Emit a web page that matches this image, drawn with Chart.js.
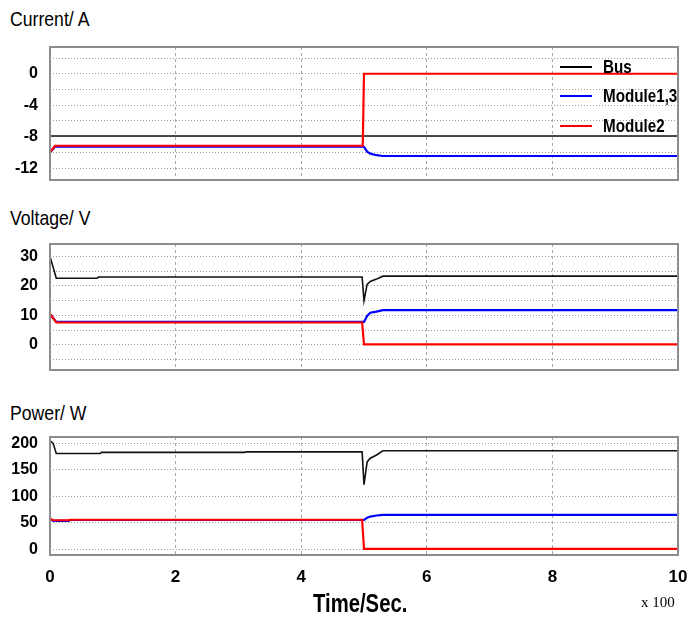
<!DOCTYPE html>
<html>
<head>
<meta charset="utf-8">
<script src="https://cdn.jsdelivr.net/npm/chart.js@4.4.0/dist/chart.umd.min.js"></script>
<style>
  body { margin: 0; background: #fff; width: 688px; height: 629px; position: relative; overflow: hidden;
         font-family: 'Liberation Sans', Arial, sans-serif; }
  .box { position: absolute; left: 0; width: 688px; }
  .title { position: absolute; left: 10px; font-size: 21px; color: #000; transform: scaleX(0.84); transform-origin: left top; white-space: nowrap; }
  .legend { position: absolute; left: 560px; font-size: 19px; font-weight: bold; }
  .legend div { height: 29.5px; display: flex; align-items: center; white-space: nowrap; }
  .legend span.ln { display: inline-block; width: 32px; height: 2px; margin-right: 11px; }
  .legend span.tx { display: inline-block; transform: scaleX(0.8); transform-origin: left center; }
</style>
</head>
<body>
<div class="title" style="top:7px">Current/ A</div>
<div class="title" style="top:206px">Voltage/ V</div>
<div class="title" style="top:401px">Power/ W</div>

<div class="box" style="top:35px;height:157px"><canvas id="currentChart"></canvas></div>
<div class="box" style="top:232px;height:150px"><canvas id="voltageChart"></canvas></div>
<div class="box" style="top:425px;height:165px"><canvas id="powerChart"></canvas></div>

<div class="legend" style="top:52px">
  <div><span class="ln" style="background:#000"></span><span class="tx">Bus</span></div>
  <div><span class="ln" style="background:#0000ff"></span><span class="tx">Module1,3</span></div>
  <div><span class="ln" style="background:#ff0000"></span><span class="tx">Module2</span></div>
</div>

<div style="position:absolute;left:313px;top:588px;font-size:26px;font-weight:bold;transform:scaleX(0.78);transform-origin:left top;white-space:nowrap">Time/Sec.</div>
<div style="position:absolute;left:641px;top:594px;font-family:'Liberation Serif',serif;font-size:15px">x 100</div>

<script>
'use strict';
let seriesNames = ['Bus', 'Module1,3', 'Module2'];
let seriesColors = ['#111111', '#0000ff', '#ff0000'];
let xTicks = [0, 2, 4, 6, 8, 10];

let currentTime = [0, 0.08, 4.98, 5.0, 5.05, 5.1, 5.2, 5.3, 10];
let currentBus = [-7.9, -7.9, -7.9, -7.9, -7.9, -7.9, -7.9, -7.9, -7.9];
let currentModule13 = [-10, -9.25, -9.25, -9.3, -9.9, -10.15, -10.35, -10.45, -10.45];
let currentModule2 = [-10, -9.15, -9.15, 0, 0, 0, 0, 0, 0];
let currentTicks = [-12, -8, -4, 0];

let voltageTime = [0, 0.1, 0.75, 0.77, 4.97, 5.0, 5.05, 5.1, 5.2, 5.3, 10];
let voltageBus = [30, 22.6, 22.6, 23, 23, 15, 20.5, 21.5, 22.3, 23.3, 23.3];
let voltageModule13 = [10.5, 7.8, 7.8, 7.8, 7.8, 7.8, 9.8, 10.9, 11.3, 11.8, 11.8];
let voltageModule2 = [10.5, 7.6, 7.6, 7.6, 7.6, 0.2, 0.2, 0.2, 0.2, 0.2, 0.2];
let voltageTicks = [0, 10, 20, 30];

let powerTime = [0, 0.05, 0.1, 0.3, 0.32, 0.8, 0.82, 3.1, 3.12, 4.97, 5.0, 5.05, 5.1, 5.2, 5.3, 10];
let powerBus = [205, 200, 181, 181, 181, 181, 183, 183, 184, 184, 122, 165, 172, 178, 186, 186];
let powerModule13 = [58, 54, 54, 54, 55.5, 55.5, 55.5, 55.5, 55.5, 55.5, 55.5, 60, 62, 64, 65, 65];
let powerModule2 = [58, 55, 55, 55, 56, 56, 56, 56, 56, 56, 1, 1, 1, 1, 1, 1];
let powerTicks = [0, 50, 100, 150, 200];

let fontFamily = "'Liberation Sans', Arial, sans-serif";

function toPoints(time, values){
    let pts = [];
    for (let i = 0; i < time.length; i++){
        pts.push({x: time[i], y: values[i]});
    }
    return pts;
}

let framePlugin = {
    id: 'frame',
    afterDraw(chart){
        let a = chart.chartArea;
        let ctx = chart.ctx;
        ctx.save();
        ctx.strokeStyle = '#8c8c8c';
        ctx.lineWidth = 2;
        ctx.strokeRect(a.left, a.top, a.right - a.left, a.bottom - a.top);
        ctx.restore();
    }
};

function makeChart(id, time, series, yMin, yMax, yStep, labelTicks, showX){
    let datasets = [];
    for (let i = series.length - 1; i >= 0; i--){
        datasets.push({
            label: seriesNames[i],
            data: toPoints(time, series[i]),
            borderColor: seriesColors[i],
            borderWidth: i === 0 ? 1.6 : 2.2,
            pointRadius: 0,
            tension: 0,
            fill: false
        });
    }
    return new Chart(document.getElementById(id), {
        type: 'line',
        data: { datasets: datasets },
        plugins: [framePlugin],
        options: {
            responsive: true,
            maintainAspectRatio: false,
            animation: false,
            layout: { padding: { top: 12, right: 10, bottom: showX ? 0 : 12, left: 0 } },
            plugins: { legend: { display: false }, tooltip: { enabled: false } },
            scales: {
                x: {
                    type: 'linear', min: 0, max: 10,
                    afterBuildTicks(scale){ scale.ticks = xTicks.map(v => ({value: v})); },
                    afterFit(scale){
                        scale.height = showX ? 35 : 0;
                        scale.paddingLeft = 0;
                        scale.paddingRight = 0;
                    },
                    border: { display: false, dash: [3, 3] },
                    grid: {
                        drawTicks: false,
                        color: ctx => (ctx.tick && (ctx.tick.value === 0 || ctx.tick.value === 10)) ? 'rgba(0,0,0,0)' : '#a8a8a8',
                        lineWidth: 1
                    },
                    ticks: {
                        display: showX, padding: 12, color: '#000', maxRotation: 0, autoSkip: false,
                        font: { family: fontFamily, size: 17, weight: 'bold' }
                    }
                },
                y: {
                    type: 'linear', min: yMin, max: yMax,
                    afterBuildTicks(scale){
                        let t = [];
                        for (let v = Math.ceil(yMin / yStep) * yStep; v <= yMax; v += yStep){ t.push({value: v}); }
                        scale.ticks = t;
                    },
                    afterFit(scale){
                        scale.width = 50;
                        scale.paddingTop = 0;
                        scale.paddingBottom = 0;
                    },
                    border: { display: false, dash: [1, 2] },
                    grid: { drawTicks: false, color: '#9a9a9a', lineWidth: 1 },
                    ticks: {
                        padding: 12, color: '#000', autoSkip: false,
                        font: { family: fontFamily, size: 16, weight: 'bold' },
                        callback: v => labelTicks.indexOf(v) >= 0 ? String(v) : ''
                    }
                }
            }
        }
    });
}

let c1 = makeChart('currentChart', currentTime, [currentBus, currentModule13, currentModule2], -13.5, 3.4, 2, currentTicks, false);
let c2 = makeChart('voltageChart', voltageTime, [voltageBus, voltageModule13, voltageModule2], -8.5, 34.2, 5, voltageTicks, false);
let c3 = makeChart('powerChart', powerTime, [powerBus, powerModule13, powerModule2], -10.5, 212, 50, powerTicks, true);
</script>
</body>
</html>
